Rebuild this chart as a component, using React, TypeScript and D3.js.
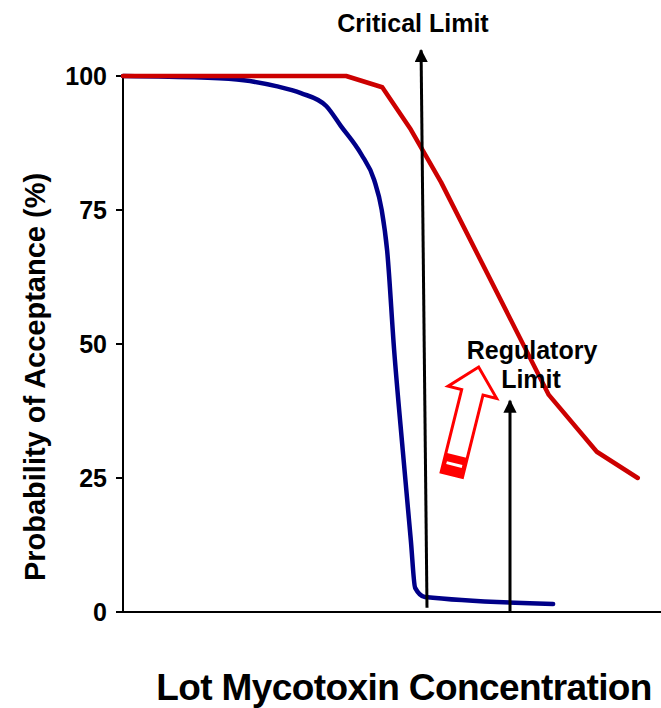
import React, { useRef, useEffect } from 'react';
import * as d3 from 'd3';

// concentration in arbitrary units (0-100 across the axis), acceptance in %
const regulatoryConc = [0, 41.4, 48.1, 53.4, 59.0, 79.0, 87.9, 95.5];
const regulatoryAccept = [100, 100, 97.9, 90.0, 80.2, 40.5, 29.9, 25.0];

const criticalConc = [0, 14.5, 22.4, 28.4, 33.0, 37.7, 40.4, 44.2, 46.6, 48.0, 49.0, 50.3, 51.9, 53.4, 54.2, 56.0, 79.8];
const criticalAccept = [100, 99.7, 99.2, 98.1, 96.8, 94.4, 90.7, 85.4, 80.6, 75.0, 67.5, 48.9, 30.2, 13.4, 4.5, 2.8, 1.5];

const yTicks = [0, 25, 50, 75, 100];

// limit markers: [bottom conc, top conc], [bottom %, top %]
const criticalLimitConc = [56.4, 55.3];
const criticalLimitAccept = [0.8, 104.8];
const regulatoryLimitConc = [71.8, 71.8];
const regulatoryLimitAccept = [0, 39.4];

// hollow shift arrow: tail position [conc, %], tilt in degrees
const shiftArrowAt = [61.0, 25.6];
const shiftArrowTilt = 14;

const W = 661;
const H = 708;
const font = '"Liberation Sans", Arial, sans-serif';

const App: React.FC = () => {
  const ref = useRef<SVGSVGElement | null>(null);

  useEffect(() => {
    if (!ref.current) return;
    const svg = d3.select(ref.current);
    svg.selectAll('*').remove();

    const x = d3.scaleLinear().domain([0, 100]).range([123, 662]);
    const y = d3.scaleLinear().domain([0, 100]).range([612, 76]);

    // axes
    svg.append('line')
      .attr('x1', x(0)).attr('x2', W)
      .attr('y1', y(0)).attr('y2', y(0))
      .attr('stroke', '#000').attr('stroke-width', 2);
    svg.append('line')
      .attr('x1', x(0)).attr('x2', x(0))
      .attr('y1', y(0)).attr('y2', y(100))
      .attr('stroke', '#000').attr('stroke-width', 2);

    const ticks = svg.append('g');
    ticks.selectAll('line')
      .data(yTicks)
      .enter()
      .append('line')
      .attr('x1', x(0) - 7).attr('x2', x(0))
      .attr('y1', (d) => y(d)).attr('y2', (d) => y(d))
      .attr('stroke', '#000').attr('stroke-width', 2);
    ticks.selectAll('text')
      .data(yTicks)
      .enter()
      .append('text')
      .attr('x', x(0) - 16)
      .attr('y', (d) => y(d))
      .attr('dy', '0.36em')
      .attr('text-anchor', 'end')
      .attr('font-family', font)
      .attr('font-weight', 'bold')
      .attr('font-size', 25)
      .text((d) => d);

    // curves
    const line = d3.line<[number, number]>()
      .x((d) => x(d[0]))
      .y((d) => y(d[1]));

    const red = regulatoryConc.map((c, i) => [c, regulatoryAccept[i]] as [number, number]);
    const blue = criticalConc.map((c, i) => [c, criticalAccept[i]] as [number, number]);

    svg.append('path')
      .attr('d', line.curve(d3.curveMonotoneX)(blue) as string)
      .attr('fill', 'none')
      .attr('stroke', '#000088')
      .attr('stroke-width', 4.5)
      .attr('stroke-linejoin', 'round')
      .attr('stroke-linecap', 'round');

    svg.append('path')
      .attr('d', line.curve(d3.curveLinear)(red) as string)
      .attr('fill', 'none')
      .attr('stroke', '#cc0000')
      .attr('stroke-width', 4.5)
      .attr('stroke-linejoin', 'round')
      .attr('stroke-linecap', 'round');

    // limit arrows
    const defs = svg.append('defs');
    defs.append('marker')
      .attr('id', 'head')
      .attr('viewBox', '0 0 10 10')
      .attr('refX', 9).attr('refY', 5)
      .attr('markerWidth', 4.4).attr('markerHeight', 4.4)
      .attr('markerUnits', 'strokeWidth')
      .attr('orient', 'auto')
      .append('path')
      .attr('d', 'M0,0 L10,5 L0,10 Z')
      .attr('fill', '#000');

    const limits = [
      [criticalLimitConc, criticalLimitAccept],
      [regulatoryLimitConc, regulatoryLimitAccept],
    ];
    svg.selectAll('line.limit')
      .data(limits)
      .enter()
      .append('line')
      .attr('class', 'limit')
      .attr('x1', (d) => x(d[0][0])).attr('y1', (d) => y(d[1][0]))
      .attr('x2', (d) => x(d[0][1])).attr('y2', (d) => y(d[1][1]))
      .attr('stroke', '#000')
      .attr('stroke-width', 3)
      .attr('marker-end', 'url(#head)');

    // hollow shift arrow (local shape, pointing up)
    const sa = svg.append('g')
      .attr('transform', `translate(${x(shiftArrowAt[0])},${y(shiftArrowAt[1])}) rotate(${shiftArrowTilt})`);
    const arrowShape = [
      [-11, 0], [-11, -85], [-25, -85], [0, -111], [25, -85], [11, -85], [11, 0],
    ];
    sa.append('path')
      .attr('d', d3.line()(arrowShape as [number, number][]) + 'Z')
      .attr('fill', '#fff')
      .attr('stroke', '#ff0000')
      .attr('stroke-width', 3)
      .attr('stroke-linejoin', 'miter');
    sa.append('rect')
      .attr('x', -11).attr('y', -20).attr('width', 22).attr('height', 20)
      .attr('fill', '#ff0000');
    sa.append('rect')
      .attr('x', -8).attr('y', -12).attr('width', 16).attr('height', 3)
      .attr('fill', '#fff');

    // labels
    const label = (tx: number, ty: number, txt: string, size: number) =>
      svg.append('text')
        .attr('x', tx).attr('y', ty)
        .attr('text-anchor', 'middle')
        .attr('font-family', font)
        .attr('font-weight', 'bold')
        .attr('font-size', size)
        .text(txt);

    label(413, 32, 'Critical Limit', 25);
    label(532, 359, 'Regulatory', 25);
    label(531, 388, 'Limit', 25);

    svg.append('text')
      .attr('transform', `translate(45,377) rotate(-90)`)
      .attr('text-anchor', 'middle')
      .attr('font-family', font)
      .attr('font-weight', 'bold')
      .attr('font-size', 29)
      .text('Probability of Acceptance (%)');

    svg.append('text')
      .attr('x', 404)
      .attr('y', 700)
      .attr('text-anchor', 'middle')
      .attr('font-family', font)
      .attr('font-weight', 'bold')
      .attr('font-size', 37)
      .attr('letter-spacing', -0.6)
      .text('Lot Mycotoxin Concentration');
  }, []);

  return (
    <svg
      ref={ref}
      width={W}
      height={H}
      style={{ position: 'absolute', left: 0, top: 0, background: '#fff' }}
    />
  );
};

export default App;
